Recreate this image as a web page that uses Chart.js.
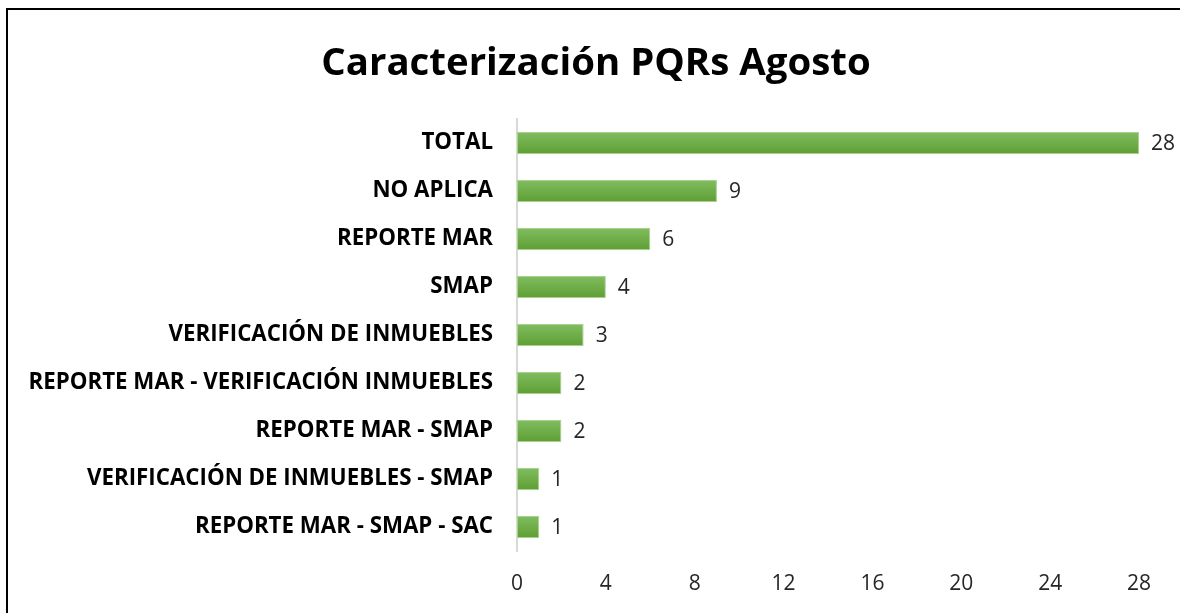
<!DOCTYPE html>
<html>
<head>
<meta charset="utf-8">
<script src="https://cdn.jsdelivr.net/npm/chart.js@4/dist/chart.umd.min.js"></script>
<style>
  html, body { margin: 0; padding: 0; background: #fff; overflow: hidden; }
  #chart { display: block; }
</style>
</head>
<body>
<canvas id="chart" width="1180" height="613"></canvas>
<script>
const categories = [
    "TOTAL",
    "NO APLICA",
    "REPORTE MAR",
    "SMAP",
    "VERIFICACIÓN DE INMUEBLES",
    "REPORTE MAR - VERIFICACIÓN INMUEBLES",
    "REPORTE MAR - SMAP",
    "VERIFICACIÓN DE INMUEBLES - SMAP",
    "REPORTE MAR - SMAP - SAC"
];
const counts = [28, 9, 6, 4, 3, 2, 2, 1, 1];
const xTicks = [0, 4, 8, 12, 16, 20, 24, 28];

const fontFamily = "'Open Sans', Lato, sans-serif";

// vertical gradient per bar, like the excel fill
function barFill(context) {
    const chart = context.chart;
    const yScale = chart.scales.y;
    if (!yScale || context.dataIndex === undefined) return "#70ad47";
    const cy = yScale.getPixelForValue(context.dataIndex);
    if (!isFinite(cy)) return "#70ad47";
    const g = chart.ctx.createLinearGradient(0, cy - 11, 0, cy + 11);
    g.addColorStop(0, "#81bd5f");
    g.addColorStop(1, "#5e9e34");
    return g;
}

// black frame at left/top, as in the screenshot crop
const frame = {
    id: "frame",
    beforeDraw(chart) {
        const c = chart.ctx;
        c.save();
        c.strokeStyle = "#000";
        c.lineWidth = 2;
        c.beginPath();
        c.moveTo(7, chart.height + 2);
        c.lineTo(7, 9);
        c.lineTo(chart.width + 2, 9);
        c.stroke();
        c.restore();
    }
};

const valueLabels = {
    id: "valueLabels",
    afterDatasetsDraw(chart) {
        const c = chart.ctx;
        const meta = chart.getDatasetMeta(0);
        c.save();
        c.font = "21px " + fontFamily;
        c.fillStyle = "#262626";
        c.textAlign = "left";
        c.textBaseline = "middle";
        meta.data.forEach((bar, i) => {
            c.fillText(String(counts[i]), bar.x + 12, bar.y + 1);
        });
        c.restore();
    }
};

const ctx = document.getElementById("chart").getContext("2d");

const chart = new Chart(ctx, {
    type: "bar",
    data: {
        labels: categories,
        datasets: [{
            data: counts,
            backgroundColor: barFill,
            borderColor: "#a9d18e",
            borderWidth: 1,
            borderSkipped: false,
            categoryPercentage: 0.92,
            barPercentage: 0.5
        }]
    },
    options: {
        indexAxis: "y",
        responsive: false,
        animation: false,
        layout: {
            padding: { left: 20, right: 8, top: 12, bottom: 0 }
        },
        plugins: {
            legend: { display: false },
            tooltip: { enabled: false },
            title: {
                display: true,
                text: "Caracterización PQRs Agosto",
                color: "#000",
                font: { family: fontFamily, size: 38.4, weight: "bold" },
                padding: { top: 29, bottom: 32 }
            }
        },
        scales: {
            x: {
                min: 0,
                max: 28,
                afterBuildTicks(scale) {
                    scale.ticks = xTicks.map(v => ({ value: v }));
                },
                afterFit(scale) {
                    scale.height = 62;
                },
                grid: { display: false, drawTicks: false },
                border: { display: false },
                ticks: {
                    color: "#262626",
                    padding: 20,
                    font: { family: fontFamily, size: 21 }
                }
            },
            y: {
                afterFit(scale) {
                    scale.width = 497;
                },
                grid: { display: false, drawTicks: false },
                border: { display: true, color: "#d9d9d9", width: 2 },
                ticks: {
                    color: "#000",
                    padding: 24,
                    font: { family: fontFamily, size: 22.3, weight: "bold" }
                }
            },
            // empty right-hand gutter so the value labels have room
            gutter: {
                type: "linear",
                position: "right",
                display: true,
                afterFit(scale) {
                    scale.width = 33;
                },
                grid: { display: false, drawTicks: false },
                border: { display: false },
                ticks: { display: false }
            }
        }
    },
    plugins: [frame, valueLabels]
});
</script>
</body>
</html>
